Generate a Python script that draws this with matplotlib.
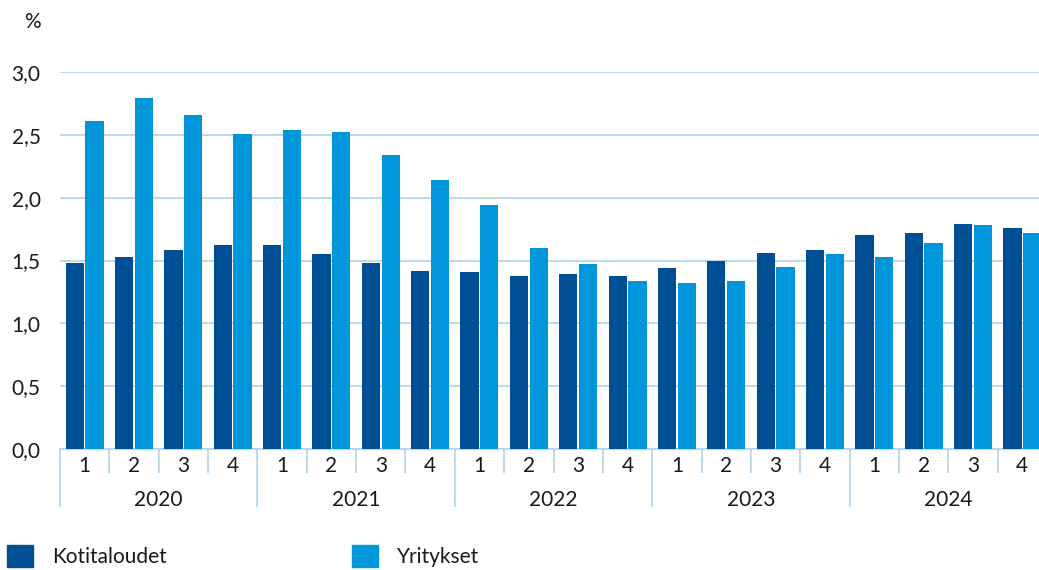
import numpy as np
import matplotlib
matplotlib.use("Agg")
import matplotlib.pyplot as plt
from matplotlib.ticker import FuncFormatter
from matplotlib.patches import Patch

plt.rcParams['font.family'] = ['Lato', 'DejaVu Sans']

years = ['2020', '2021', '2022', '2023', '2024']
quarters = ['1', '2', '3', '4']
kotitaloudet = [1.48, 1.53, 1.58, 1.62,
                1.62, 1.55, 1.48, 1.42,
                1.41, 1.38, 1.39, 1.38,
                1.44, 1.50, 1.56, 1.58,
                1.70, 1.72, 1.79, 1.76]
yritykset = [2.61, 2.79, 2.66, 2.51,
             2.54, 2.52, 2.34, 2.14,
             1.94, 1.60, 1.47, 1.34,
             1.32, 1.34, 1.45, 1.55,
             1.53, 1.64, 1.78, 1.72]

dark = '#004f94'
light = '#0096d9'
grid_c = '#b3d3ea'
fs = 15

fig = plt.figure(figsize=(10.39, 5.70), dpi=100)
ax = fig.add_axes([60 / 1039, 121 / 570, 987 / 1039, 377 / 570])

x = np.arange(len(kotitaloudet))
w = 0.37
ax.bar(x - 0.2, kotitaloudet, w, color=dark, zorder=3)
ax.bar(x + 0.2, yritykset, w, color=light, zorder=3)

ax.set_xlim(-0.5, len(x) - 0.5)
ax.set_ylim(0, 3.0)
ax.set_yticks(np.arange(0, 3.01, 0.5))
ax.yaxis.set_major_formatter(FuncFormatter(lambda v, p: f'{v:.1f}'.replace('.', ',')))
ax.tick_params(axis='y', length=0, labelsize=fs, pad=14, labelcolor='#1a1a1a')
ax.yaxis.grid(True, color=grid_c, linewidth=1.2, zorder=0)

for s in ['top', 'right', 'left']:
    ax.spines[s].set_visible(False)
ax.spines['bottom'].set_color(grid_c)
ax.spines['bottom'].set_linewidth(1.2)

# quarter boundaries (short) and year boundaries (long)
bounds = np.arange(len(x) + 1) - 0.5
ax.set_xticks(bounds[::4])
ax.set_xticks(bounds, minor=True)
ax.tick_params(axis='x', which='major', length=42, color=grid_c, width=1.2, labelbottom=False)
ax.tick_params(axis='x', which='minor', length=17, color=grid_c, width=1.2)

tr = ax.get_xaxis_transform()
for i in x:
    ax.text(i, -0.045, quarters[i % 4], transform=tr, ha='center', va='center',
            fontsize=fs, color='#1a1a1a')
for j, yr in enumerate(years):
    ax.text(j * 4 + 1.5, -0.135, yr, transform=tr, ha='center', va='center',
            fontsize=fs, color='#1a1a1a')

fig.text(32 / 1039, 1 - 22 / 570, '%', ha='center', va='center', fontsize=fs, color='#1a1a1a')

handles = [Patch(color=dark, label='Kotitaloudet'), Patch(color=light, label='Yritykset')]
leg = fig.legend(handles=handles, loc='center left', bbox_to_anchor=(0.007, 1 - 556 / 570),
                 ncol=2, frameon=False, fontsize=fs, handlelength=1.25, handleheight=1.25,
                 columnspacing=8.9, handletextpad=0.9, borderaxespad=0, borderpad=0)
for t in leg.get_texts():
    t.set_color('#1a1a1a')

fig.savefig('out.png', dpi=100)
